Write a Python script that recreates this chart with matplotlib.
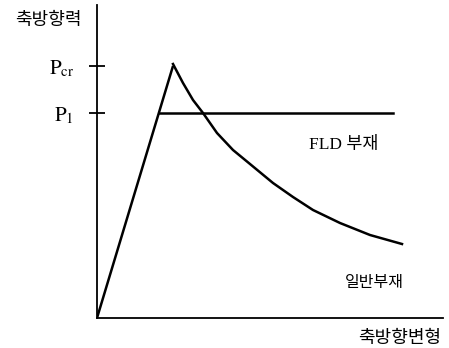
import matplotlib.pyplot as plt

plt.rcParams['mathtext.fontset'] = 'stix'
KR = ['Noto Sans CJK KR', 'DejaVu Sans']
SERIF_KR = ['Liberation Serif', 'Noto Sans CJK KR']

# critical load and FLD yield plateau
p_cr = 252
p_1 = 205

# elastic branch up to buckling
rise_x = [0, 76]
rise_y = [0, p_cr]

# FLD member: plateau at P1
fld_x = [62, 296]
fld_y = [p_1, p_1]

# ordinary member: post-buckling decay
decay_x = [76, 86, 96, 106, 120, 136, 153, 176, 196, 216, 243, 273, 305]
decay_y = [254, 235, 218, 205, 185, 168, 154, 135, 121, 108, 95, 83, 74]

fig = plt.figure(figsize=(4.49, 3.48), dpi=100)
W, H = 449, 348
ax = fig.add_axes([97 / W, (H - 318) / H, (443 - 97) / W, (318 - 5) / H])
ax.set_xlim(0, 346)
ax.set_ylim(0, 313)

lw = 1.8
ax.plot(rise_x, rise_y, color='black', lw=lw, solid_capstyle='butt')
ax.plot(fld_x, fld_y, color='black', lw=lw)
ax.plot(decay_x, decay_y, color='black', lw=lw, solid_joinstyle='round')

for side in ['top', 'right']:
    ax.spines[side].set_visible(False)
for side in ['left', 'bottom']:
    ax.spines[side].set_linewidth(1.3)

ax.set_xticks([])
ax.set_yticks([p_cr, p_1])
ax.set_yticklabels([r'$\mathrm{P}_{\mathrm{cr}}$', r'$\mathrm{P}_{1}$'], fontsize=15)
ax.tick_params(axis='y', direction='inout', length=11, width=1.3, pad=11)

ax.text(-49, 298, '축방향력', fontsize=13, family=KR, ha='center', va='center')
ax.text(303, -20, '축방향변형', fontsize=13, family=KR, ha='center', va='center',
        clip_on=False)
ax.text(247, 173, 'FLD 부재', fontsize=12.5, family=SERIF_KR, ha='center', va='center')
ax.text(277, 36, '일반부재', fontsize=11.5, family=KR, ha='center', va='center')

fig.savefig('out.png', dpi=100, facecolor='white')
